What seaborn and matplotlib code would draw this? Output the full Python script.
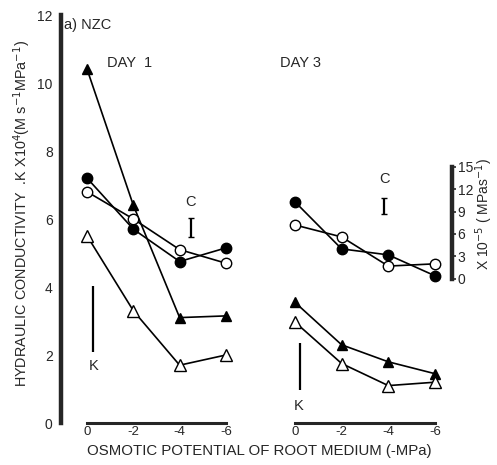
import matplotlib
matplotlib.use("Agg")
import matplotlib.pyplot as plt
import seaborn as sns

# osmotic potential of root medium (MPa)
potential = [0, -2, -4, -6]
tick_labels = ["0", "-2", "-4", "-6"]

# Day 1, all on the K scale (x10^4)
d1_filled_tri = [10.4, 6.4, 3.1, 3.15]
d1_open_tri = [5.5, 3.3, 1.7, 2.0]
d1_filled_circ = [7.2, 5.7, 4.75, 5.15]
d1_open_circ = [6.8, 6.0, 5.1, 4.7]

# Day 3, triangles on K scale, circles on C scale (x10^-5)
d3_filled_tri = [3.55, 2.3, 1.8, 1.45]
d3_open_tri = [2.97, 1.75, 1.1, 1.2]
d3_filled_circ = [10.3, 4.0, 3.2, 0.4]
d3_open_circ = [7.2, 5.6, 1.7, 2.0]

# LSD bars: (x, low, high)
d1_k_bar = [-0.26, 2.1, 4.03]
d1_c_bar = [-4.48, 5.47, 6.03]
d3_k_bar = [-0.21, 0.97, 2.35]
d3_c_bar = [-3.82, 8.7, 10.8]

sns.set_style("white")
plt.rcParams["font.family"] = ["Liberation Sans", "DejaVu Sans"]
plt.rcParams["font.size"] = 10

W, H = 497, 465
fig = plt.figure(figsize=(W / 100, H / 100), dpi=100)


def box(x0, x1, y_top, y_bot):
    return [x0 / W, 1 - y_bot / H, (x1 - x0) / W, (y_bot - y_top) / H]


ax1 = fig.add_axes(box(61, 240, 15, 423))
ax2 = fig.add_axes(box(280, 452, 15, 423))
ax3 = ax2.twinx()

styles = {
    "filled_tri": dict(marker="^", markerfacecolor="black", markersize=7.5),
    "open_tri": dict(marker="^", markerfacecolor="white", markersize=8),
    "filled_circ": dict(marker="o", markerfacecolor="black", markersize=7.5),
    "open_circ": dict(marker="o", markerfacecolor="white", markersize=7.5),
}


def draw(ax, y, kind):
    sns.lineplot(x=potential, y=y, ax=ax, color="black", linewidth=1.2,
                 markeredgecolor="black", markeredgewidth=1.0, sort=False,
                 **styles[kind])


draw(ax1, d1_filled_tri, "filled_tri")
draw(ax1, d1_open_tri, "open_tri")
draw(ax1, d1_filled_circ, "filled_circ")
draw(ax1, d1_open_circ, "open_circ")

draw(ax2, d3_filled_tri, "filled_tri")
draw(ax2, d3_open_tri, "open_tri")
draw(ax3, d3_filled_circ, "filled_circ")
draw(ax3, d3_open_circ, "open_circ")

# LSD bars
for ax, bar in [(ax1, d1_k_bar), (ax1, d1_c_bar), (ax2, d3_k_bar), (ax3, d3_c_bar)]:
    ax.vlines(bar[0], bar[1], bar[2], color="black", linewidth=1.6)
    if bar is d1_c_bar or bar is d3_c_bar:
        ax.hlines([bar[1], bar[2]], bar[0] - 0.12, bar[0] + 0.12, color="black", linewidth=1.0)

ax1.text(d1_c_bar[0], 6.5, "C", ha="center", va="center", fontsize=10.5)
ax1.text(d1_k_bar[0], 1.68, "K", ha="center", va="center", fontsize=10.5)
ax3.text(d3_c_bar[0], 13.3, "C", ha="center", va="center", fontsize=10.5)
ax2.text(d3_k_bar[0] + 0.05, 0.5, "K", ha="center", va="center", fontsize=10.5)

# day 1 axes
ax1.set_xlim(1.13, -6.61)
ax1.set_ylim(0, 12)
ax1.spines["top"].set_visible(False)
ax1.spines["right"].set_visible(False)
ax1.spines["left"].set_linewidth(3.2)
ax1.spines["left"].set_bounds(0, 12)
ax1.spines["bottom"].set_linewidth(2.2)
ax1.spines["bottom"].set_bounds(0, -6)
ax1.set_yticks([0, 2, 4, 6, 8, 10, 12])
ax1.tick_params(axis="y", direction="out", length=4, width=1.2, pad=2, labelsize=10)
ax1.set_xticks(potential)
ax1.set_xticklabels(tick_labels)
ax1.tick_params(axis="x", direction="in", length=4, width=1.2, pad=2, labelsize=9.5)

# day 3 axes
for ax in (ax2, ax3):
    ax.set_xlim(0.64, -6.73)
ax2.set_ylim(0, 12)
for s in ("top", "right", "left"):
    ax2.spines[s].set_visible(False)
ax2.spines["bottom"].set_linewidth(2.2)
ax2.spines["bottom"].set_bounds(0, -6)
ax2.set_yticks([])
ax2.set_xticks(potential)
ax2.set_xticklabels(tick_labels)
ax2.tick_params(axis="x", direction="in", length=4, width=1.2, pad=2, labelsize=9.5)

ax3.set_ylim(-19.3, 35.3)
for s in ("top", "left", "bottom"):
    ax3.spines[s].set_visible(False)
ax3.spines["right"].set_linewidth(3.2)
ax3.spines["right"].set_bounds(0, 15)
ax3.set_yticks([0, 3, 6, 9, 12, 15])
ax3.tick_params(axis="y", direction="out", length=3, width=1.2, pad=1, labelsize=10)

for ax in (ax1, ax2, ax3):
    ax.set_xlabel("")
    ax.set_ylabel("")
    ax.patch.set_visible(False)

fig.text(64 / W, 1 - 25 / H, "a) NZC", ha="left", va="center", fontsize=10.5)
fig.text(130 / W, 1 - 63 / H, "DAY  1", ha="center", va="center", fontsize=10.5)
fig.text(301 / W, 1 - 63 / H, "DAY 3", ha="center", va="center", fontsize=10.5)
fig.text(22 / W, 1 - 213 / H,
         "HYDRAULIC CONDUCTIVITY  .K X10$^{4}$(M s$^{-1}$MPa$^{-1}$)",
         rotation=90, ha="center", va="center", fontsize=10.4)
fig.text(484 / W, 1 - 214 / H, "X 10$^{-5}$ ( MPas$^{-1}$)",
         rotation=90, ha="center", va="center", fontsize=10)
fig.text(259 / W, 1 - 451 / H, "OSMOTIC POTENTIAL OF ROOT MEDIUM (-MPa)",
         ha="center", va="center", fontsize=10.8)

fig.savefig("out.png", dpi=100)
